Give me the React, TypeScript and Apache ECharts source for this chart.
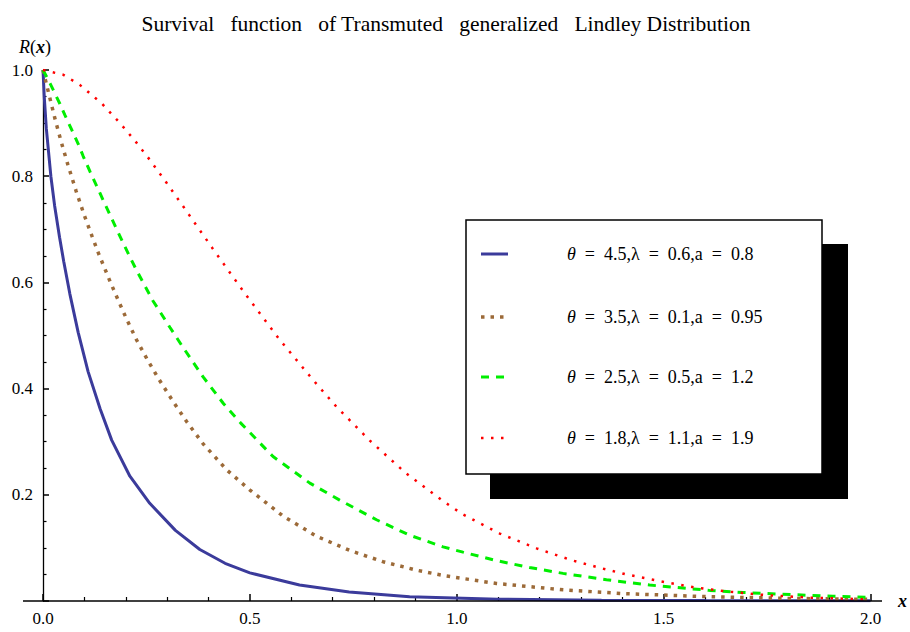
import React, { useEffect, useRef } from "react";
import * as echarts from "echarts";

const titleText = "Survival   function   of Transmuted   generalized   Lindley Distribution";

const seriesNames = [
  "θ = 4.5,λ = 0.6,a = 0.8",
  "θ = 3.5,λ = 0.1,a = 0.95",
  "θ = 2.5,λ = 0.5,a = 1.2",
  "θ = 1.8,λ = 1.1,a = 1.9",
];
const legendParams = [
  ["4.5", "0.6", "0.8"],
  ["3.5", "0.1", "0.95"],
  ["2.5", "0.5", "1.2"],
  ["1.8", "1.1", "1.9"],
];

// Blue solid curve
const blueX = [0, 0.003, 0.008, 0.019, 0.028, 0.04, 0.05, 0.065, 0.085, 0.109, 0.138, 0.166, 0.21, 0.258, 0.32, 0.379, 0.44, 0.5, 0.62, 0.74, 0.886, 1.1, 1.35, 1.6, 2.0];
const blueY = [1.0, 0.95, 0.89, 0.8, 0.745, 0.685, 0.64, 0.578, 0.506, 0.432, 0.362, 0.303, 0.235, 0.184, 0.133, 0.097, 0.071, 0.053, 0.03, 0.017, 0.008, 0.0035, 0.0015, 0.0008, 0.0004];

// Brown dotted curve
const brownX = [0, 0.015, 0.03, 0.045, 0.06, 0.08, 0.1, 0.118, 0.134, 0.162, 0.182, 0.202, 0.226, 0.254, 0.279, 0.315, 0.347, 0.387, 0.444, 0.5, 0.58, 0.661, 0.742, 0.822, 0.903, 0.975, 1.096, 1.257, 1.402, 1.611, 1.8, 2.0];
const brownY = [1.0, 0.952, 0.905, 0.862, 0.822, 0.772, 0.726, 0.688, 0.655, 0.602, 0.566, 0.531, 0.492, 0.452, 0.419, 0.375, 0.338, 0.296, 0.247, 0.209, 0.16, 0.122, 0.095, 0.074, 0.058, 0.047, 0.033, 0.021, 0.014, 0.008, 0.005, 0.003];

// Green dashed curve
const greenX = [0, 0.017, 0.041, 0.053, 0.069, 0.085, 0.097, 0.114, 0.13, 0.146, 0.162, 0.178, 0.194, 0.21, 0.226, 0.266, 0.307, 0.339, 0.387, 0.436, 0.478, 0.556, 0.645, 0.717, 0.806, 0.886, 0.967, 1.015, 1.096, 1.176, 1.257, 1.362, 1.466, 1.611, 1.692, 1.812, 1.909, 2.0];
const greenY = [1.0, 0.975, 0.936, 0.915, 0.888, 0.861, 0.838, 0.808, 0.781, 0.754, 0.727, 0.7, 0.674, 0.648, 0.623, 0.565, 0.515, 0.477, 0.422, 0.372, 0.335, 0.272, 0.222, 0.19, 0.153, 0.124, 0.102, 0.092, 0.076, 0.063, 0.052, 0.04, 0.03, 0.02, 0.016, 0.012, 0.009, 0.007];

// Red dotted curve
const redX = [0, 0.049, 0.089, 0.142, 0.186, 0.222, 0.258, 0.299, 0.339, 0.363, 0.41, 0.452, 0.492, 0.57, 0.653, 0.709, 0.79, 0.878, 0.967, 1.015, 1.104, 1.193, 1.281, 1.353, 1.41, 1.442, 1.507, 1.579, 1.651, 1.748, 1.861, 2.0];
const redY = [1.0, 0.991, 0.972, 0.937, 0.9, 0.867, 0.831, 0.787, 0.743, 0.716, 0.664, 0.618, 0.575, 0.494, 0.416, 0.366, 0.302, 0.24, 0.188, 0.163, 0.127, 0.099, 0.076, 0.061, 0.05, 0.045, 0.035, 0.025, 0.018, 0.011, 0.006, 0.003];

const colors = ["#3b3b9b", "#9c6a38", "#00ee00", "#ff0000"];
const dashes: any[] = ["solid", [3.5, 6], [8, 7], [2.5, 7.5]];
const widths = [3, 3.5, 3, 2.5];

const zip = (xs: number[], ys: number[]) => xs.map((x, i) => [x, ys[i]]);
const curves = [zip(blueX, blueY), zip(brownX, brownY), zip(greenX, greenY), zip(redX, redY)];

const FONT = "Liberation Serif";
const SP = "\u2002";

export default function App() {
  const ref = useRef<HTMLDivElement>(null);
  useEffect(() => {
    if (!ref.current) return;
    const chart = echarts.init(ref.current, null, { renderer: "svg" });
    const gridLeft = 43, gridRight = 39, gridTop = 70, gridBottom = 31;
    const axisY = 632 - gridBottom;

    const legendTop = 220, legendLeft = 466, legendW = 356, legendH = 254;
    const rowY = [254, 317, 377, 438];

    const legendGraphics: any[] = [
      { type: "rect", z: 100, shape: { x: legendLeft + 24, y: legendTop + 24, width: legendW + 2, height: legendH + 1 }, style: { fill: "#000" } },
      { type: "rect", z: 101, shape: { x: legendLeft, y: legendTop, width: legendW, height: legendH }, style: { fill: "#fff", stroke: "#000", lineWidth: 1.5 } },
    ];
    seriesNames.forEach((name, i) => {
      legendGraphics.push({
        type: "line", z: 102,
        shape: { x1: legendLeft + 15, y1: rowY[i], x2: legendLeft + 42, y2: rowY[i] },
        style: { stroke: colors[i], lineWidth: widths[i], lineDash: dashes[i] === "solid" ? null : dashes[i] },
      });
      const [t, l, a] = legendParams[i];
      legendGraphics.push({
        type: "text", z: 102, x: legendLeft + 101, y: rowY[i],
        style: {
          text: `{it|θ}{n|${SP}=${SP}${t},λ${SP}=${SP}${l},a${SP}=${SP}${a}}`,
          verticalAlign: "middle", align: "left",
          rich: {
            it: { fontFamily: FONT, fontSize: 18, fontStyle: "italic", fill: "#000" },
            n: { fontFamily: FONT, fontSize: 18, fill: "#000" },
          },
        },
      });
    });

    chart.setOption({
      animation: false,
      backgroundColor: "#fff",
      title: {
        text: titleText,
        left: 441,
        top: 8,
        textAlign: "center",
        textStyle: { fontFamily: FONT, fontSize: 21.5, fontWeight: "normal", color: "#000" },
      },
      grid: { left: gridLeft, right: gridRight, top: gridTop, bottom: gridBottom },
      xAxis: {
        type: "value", min: 0, max: 2, interval: 0.5,
        name: "x", nameLocation: "end", nameGap: 32,
        nameTextStyle: { fontFamily: FONT, fontSize: 18, fontStyle: "italic", fontWeight: "bold", color: "#000", align: "center", verticalAlign: "middle", padding: [6, 0, 0, 0] },
        axisLine: { show: false, onZero: false },
        axisTick: { show: true, inside: true, length: 7, lineStyle: { color: "#000", width: 1.5 } },
        minorTick: { show: true, splitNumber: 5, length: 4, lineStyle: { color: "#000", width: 1.2 } },
        splitLine: { show: false },
        axisLabel: { fontFamily: FONT, fontSize: 17, color: "#000", margin: 9, formatter: (v: number) => v.toFixed(1) },
      },
      yAxis: {
        type: "value", min: 0, max: 1, interval: 0.2,
        name: "{r|R}({x|x})", nameLocation: "end", nameGap: 23,
        nameTextStyle: {
          fontFamily: FONT, fontSize: 18, color: "#000", align: "center", verticalAlign: "middle", padding: [0, 16, 0, 0],
          rich: {
            r: { fontFamily: FONT, fontSize: 18, fontStyle: "italic", color: "#000" },
            x: { fontFamily: FONT, fontSize: 18, fontStyle: "italic", fontWeight: "bold", color: "#000" },
          },
        },
        axisLine: { show: true, onZero: false, lineStyle: { color: "#000", width: 1.3 } },
        axisTick: { show: true, inside: true, length: 6, lineStyle: { color: "#000", width: 1.5 } },
        minorTick: { show: true, splitNumber: 4, length: 3.5, lineStyle: { color: "#000", width: 1.2 } },
        splitLine: { show: false },
        axisLabel: { fontFamily: FONT, fontSize: 17, color: "#000", margin: 10, formatter: (v: number) => (v === 0 ? "" : v.toFixed(1)) },
      },
      graphic: [
        { type: "line", z: 50, shape: { x1: 23, y1: axisY, x2: 882, y2: axisY }, style: { stroke: "#000", lineWidth: 1.3 } },
        ...legendGraphics,
      ],
      series: curves.map((data, i) => ({
        name: seriesNames[i],
        type: "line",
        data,
        showSymbol: false,
        smooth: false,
        z: 2 + i,
        lineStyle: { color: colors[i], width: widths[i], type: dashes[i], cap: "butt" },
      })),
    });
    return () => chart.dispose();
  }, []);
  return <div ref={ref} style={{ width: 910, height: 632, position: "absolute", left: 0, top: 0 }} />;
}
